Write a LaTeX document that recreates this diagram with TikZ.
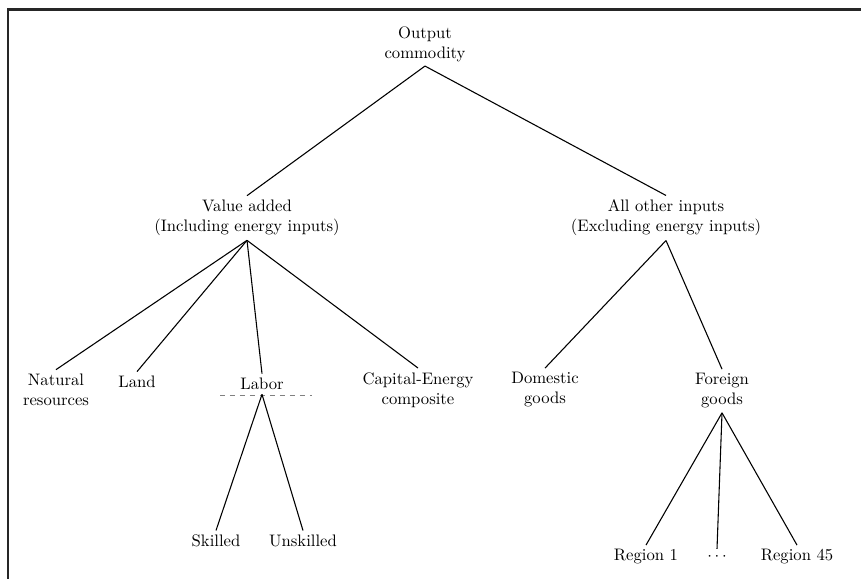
\documentclass[tikz,border=0pt]{standalone}

\tikzset{item/.style={align=center, inner sep=2.5pt}}
\tikzset{branch/.style={line width=0.65pt}}

\begin{document}
\begin{tikzpicture}
\newcommand{\xx}{0.0211}
\newcommand{\yy}{-0.0211}
\useasboundingbox (0,0) rectangle (861*\xx,579*\yy);
\draw[line width=1.3pt, black!85] (8*\xx,579*\yy) -- (8*\xx,9.5*\yy) -- (861*\xx,9.5*\yy);
\node[item] (out) at (425*\xx,44*\yy) {Output\\commodity};
\node[item] (va) at (247*\xx,218*\yy) {Value added\\(Including energy inputs)};
\node[item] (ao) at (666*\xx,218*\yy) {All other inputs\\(Excluding energy inputs)};
\node[item] (nr) at (56*\xx,390*\yy) {Natural\\resources};
\node[item] (land) at (137*\xx,382*\yy) {Land};
\node[item] (labor) at (262*\xx,384*\yy) {Labor};
\node[item] (cap) at (418*\xx,390*\yy) {Capital-Energy\\composite};
\node[item] (dom) at (545*\xx,390*\yy) {Domestic\\goods};
\node[item] (for) at (722*\xx,391*\yy) {Foreign\\goods};
\node[item] (sk) at (216*\xx,541*\yy) {Skilled};
\node[item] (unsk) at (303*\xx,541*\yy) {Unskilled};
\node[item] (r1) at (646*\xx,557*\yy) {Region 1};
\node[item] (dots) at (717*\xx,557*\yy) {$\cdots$};
\node[item] (r45) at (797*\xx,557*\yy) {Region 45};
%%%%%%%%%%%%%%%
\draw[gray, dashed, line width=0.5pt] (220*\xx,395*\yy) -- (312*\xx,395*\yy);
\draw[branch] (out.south) -- (va.north); \draw[branch] (out.south) -- (ao.north);
\draw[branch] (va.south) -- (nr.north);
\draw[branch] (va.south) -- (land.north);
\draw[branch] (va.south) -- (labor.north);
\draw[branch] (va.south) -- (cap.north);
\draw[branch] (ao.south) -- (dom.north); \draw[branch] (ao.south) -- (for.north);
\draw[branch] (labor.south) -- (sk.north); \draw[branch] (labor.south) -- (unsk.north);
\draw[branch] (for.south) -- (r1.north);
\draw[branch] (for.south) -- (dots.north);
\draw[branch] (for.south) -- (r45.north);
\end{tikzpicture}
\end{document}
